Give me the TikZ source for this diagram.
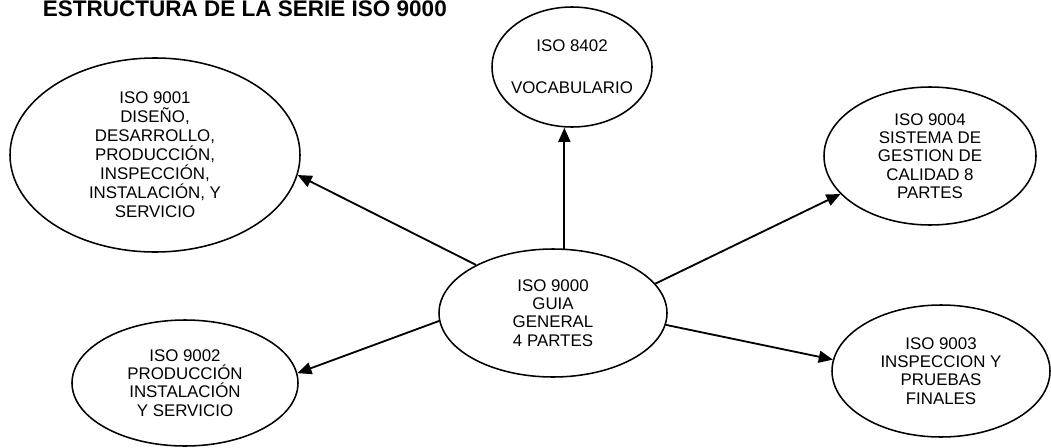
\documentclass[tikz,border=0pt]{standalone}
\usepackage{fontspec}
\setmainfont{Liberation Sans}
\usetikzlibrary{arrows.meta,shapes.geometric}

\begin{document}
\begin{tikzpicture}[x=0.025cm,y=-0.025cm,
    iso/.style 2 args={ellipse,draw,line width=1.1pt,inner sep=-12pt,
      minimum width=#1*0.025cm,minimum height=#2*0.025cm,align=center,
      font=\fontsize{12}{13}\selectfont},
    arr/.style={line width=1.3pt,-{Triangle[length=10pt,width=8.5pt]}}]
  \useasboundingbox (0,0) rectangle (1051,447);
  \node[anchor=base west,font=\fontsize{16}{19}\selectfont\bfseries] (titulo) at (38,17) {ESTRUCTURA DE LA SERIE ISO 9000};
  % centro
  \node[iso={228}{128}] (iso9000) at (553,313) {ISO 9000\\GUIA\\GENERAL\\4 PARTES};
  % alrededor
  \node[iso={160}{120}] (iso8402) at (572,67) {ISO 8402\\[17pt]VOCABULARIO};
  \node[iso={290}{194},font=\fontsize{12}{13.5}\selectfont] (iso9001) at (155,155)
    {ISO 9001\\DISEÑO,\\DESARROLLO,\\PRODUCCIÓN,\\INSPECCIÓN,\\INSTALACIÓN, Y\\SERVICIO};
  \node[iso={212}{138}] (iso9004) at (930,156) {ISO 9004\\SISTEMA DE\\GESTION DE\\CALIDAD 8\\PARTES};
  \node[iso={226}{126}] (iso9002) at (185,383) {ISO 9002\\PRODUCCIÓN\\INSTALACIÓN\\Y SERVICIO};
  \node[iso={218}{132}] (iso9003) at (941,371) {ISO 9003\\INSPECCION Y\\PRUEBAS\\FINALES};
  % flechas
  \foreach \a/\b in {148/iso9001.-8, 16/iso9004.203, 184/iso9002.5, 354/iso9003.174}
    \draw[arr] (iso9000.\a) -- (\b);
  \draw[arr] (iso9000.80) -- (iso9000.80 |- iso8402.south);
\end{tikzpicture}
\end{document}
